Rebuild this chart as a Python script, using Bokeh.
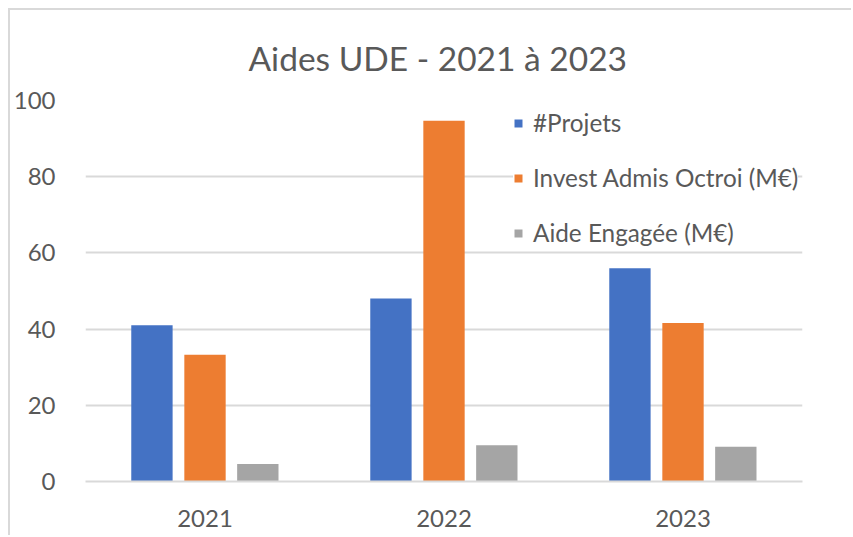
from bokeh.plotting import figure
from bokeh.models import FactorRange, ColumnDataSource, Legend, LegendItem, Range1d, FixedTicker
from bokeh.transform import dodge
from bokeh.embed import file_html
from bokeh.resources import INLINE

years = ["2021", "2022", "2023"]
projets = [41, 48, 56]
invest = [33.3, 94.7, 41.6]
aide = [4.6, 9.5, 9.1]
series_names = ["#Projets", "Invest Admis Octroi (M€)", "Aide Engagée (M€)"]
colors = ["#4472C4", "#ED7D31", "#A5A5A5"]
y_ticks = [0, 20, 40, 60, 80, 100]

FONT = "Lato"
TXT = "#595959"
GRID = "#D9D9D9"

src = ColumnDataSource(data=dict(years=years, projets=projets, invest=invest, aide=aide))

p = figure(x_range=FactorRange(factors=years, range_padding=0), y_range=Range1d(0, 100),
           width=843, height=527, output_backend="svg", toolbar_location=None,
           title="Aides UDE - 2021 à 2023",
           min_border_left=72, min_border_right=51, min_border_top=90, min_border_bottom=56)
p.styles = {"margin-left": "8px", "margin-top": "8px",
            "border-left": "2px solid #D9D9D9", "border-top": "2px solid #D9D9D9"}
p.outline_line_color = None
p.background_fill_color = "white"
p.border_fill_color = "white"

p.title.text_font = FONT
p.title.text_font_size = "33.5px"
p.title.text_font_style = "normal"
p.title.text_color = TXT
p.title.align = "left"
p.title.offset = 163
p.title.standoff = 46

offs = [-0.222, 0.0, 0.221]
fields = ["projets", "invest", "aide"]
renderers = []
for f, o, c in zip(fields, offs, colors):
    r = p.vbar(x=dodge("years", o, range=p.x_range), top=f, width=0.173, source=src,
               fill_color=c, line_color=None)
    renderers.append(r)

p.yaxis.ticker = FixedTicker(ticks=y_ticks)
p.ygrid.ticker = FixedTicker(ticks=y_ticks)
p.ygrid.grid_line_color = GRID
p.ygrid.grid_line_width = 2
p.xgrid.grid_line_color = None

p.yaxis.axis_line_color = None
p.yaxis.major_tick_line_color = None
p.yaxis.minor_tick_line_color = None
p.yaxis.major_label_standoff = 24
p.yaxis.major_label_text_font = FONT
p.yaxis.major_label_text_font_size = "24px"
p.yaxis.major_label_text_color = TXT

p.xaxis.axis_line_color = GRID
p.xaxis.axis_line_width = 2
p.xaxis.major_tick_line_color = None
p.xaxis.minor_tick_line_color = None
p.xaxis.major_label_standoff = 22
p.xaxis.major_label_text_font = FONT
p.xaxis.major_label_text_font_size = "24px"
p.xaxis.major_label_text_color = TXT

legend = Legend(items=[LegendItem(label=n, renderers=[r]) for n, r in zip(series_names, renderers)],
                location=(428, 234))
legend.margin = 0
legend.glyph_width = 10
legend.glyph_height = 10
legend.label_standoff = 10
legend.padding = 11
legend.spacing = 26
legend.label_text_font = FONT
legend.label_text_font_size = "24.3px"
legend.label_text_color = TXT
legend.border_line_color = None
legend.background_fill_color = "white"
legend.background_fill_alpha = 1.0
p.add_layout(legend, "center")

open("out.html", "w").write(file_html(p, INLINE))
